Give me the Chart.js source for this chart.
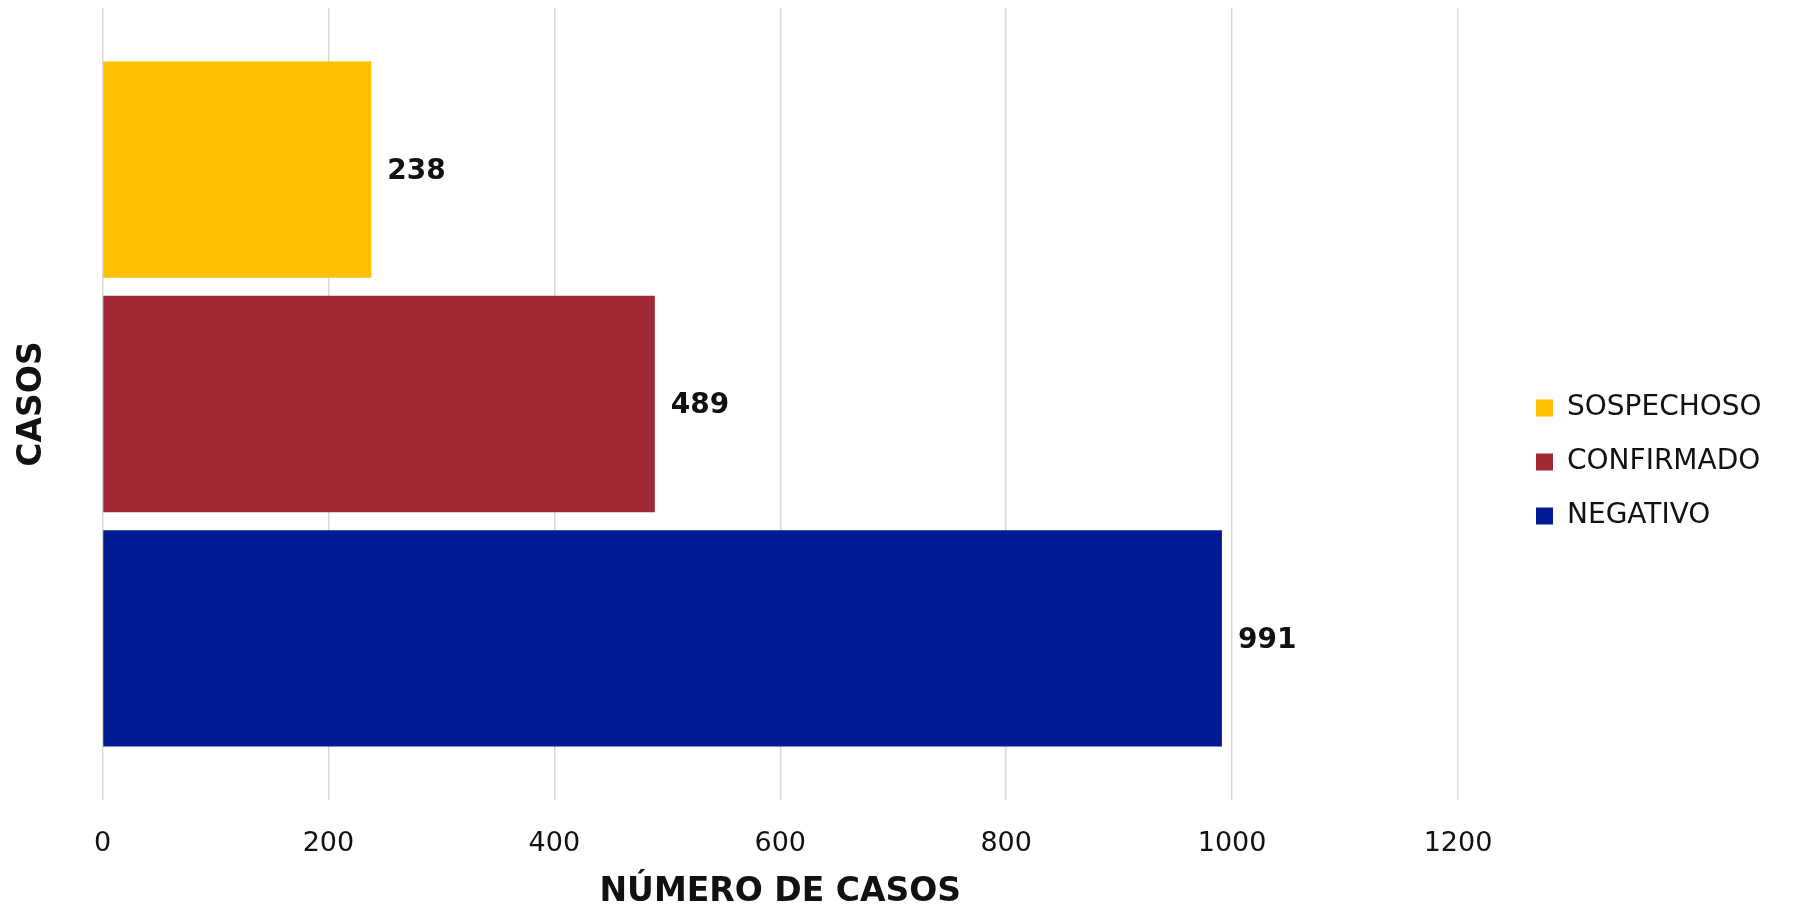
<!DOCTYPE html>
<html>
<head>
<meta charset="utf-8">
<script src="https://cdn.jsdelivr.net/npm/chart.js@4"></script>
<style>
  html, body { margin: 0; padding: 0; background: #fff; }
  #caja { width: 1806px; height: 910px; }
</style>
</head>
<body>
<div id="caja"><canvas id="grafico"></canvas></div>
<script>
const categorias = ["CASOS"];
const series = ["SOSPECHOSO", "CONFIRMADO", "NEGATIVO"];
const valores = [238, 489, 991];
const colores = ["#FFC000", "#A12936", "#001A93"];
const ticksX = [0, 200, 400, 600, 800, 1000, 1200];

const fuente = "'DejaVu Sans', sans-serif";

// etiquetas con el valor al final de cada barra
const etiquetasValor = {
    id: "etiquetasValor",
    afterDatasetsDraw(chart) {
        const ctx = chart.ctx;
        ctx.save();
        ctx.font = "bold 28px " + fuente;
        ctx.fillStyle = "#111";
        ctx.textAlign = "left";
        ctx.textBaseline = "middle";
        chart.data.datasets.forEach((ds, i) => {
            chart.getDatasetMeta(i).data.forEach((barra, j) => {
                ctx.fillText(ds.data[j], barra.x + 16, barra.y + 2);
            });
        });
        ctx.restore();
    }
};

// ancho fijo de la leyenda y corrimiento
const leyendaFija = {
    id: "leyendaFija",
    beforeInit(chart) {
        const fitOriginal = chart.legend.fit;
        chart.legend.fit = function () {
            fitOriginal.bind(chart.legend)();
            this.width = 348;
        };
    },
    afterLayout(chart) {
        chart.legend.left += 52;
        chart.legend.top += 3;
        chart.legend.bottom += 3;
    }
};

new Chart(document.getElementById("grafico"), {
    type: "bar",
    data: {
        labels: categorias,
        datasets: series.map((nombre, i) => ({
            label: nombre,
            data: [valores[i]],
            backgroundColor: colores[i],
            borderWidth: 0,
            categoryPercentage: 0.8876,
            barPercentage: 0.923
        }))
    },
    options: {
        indexAxis: "y",
        responsive: true,
        maintainAspectRatio: false,
        animation: false,
        layout: { padding: { top: 8, left: 0, right: 0, bottom: 0 } },
        plugins: {
            tooltip: { enabled: false },
            legend: {
                position: "right",
                align: "center",
                labels: {
                    color: "#111",
                    font: { family: fuente, size: 28 },
                    boxWidth: 17,
                    boxHeight: 17,
                    padding: 26
                }
            }
        },
        scales: {
            x: {
                min: 0,
                max: 1200,
                afterBuildTicks(scale) {
                    scale.ticks = ticksX.map(v => ({ value: v }));
                },
                afterFit(scale) { scale.height = 110; },
                grid: { color: "#d9d9d9", lineWidth: 1.5, drawTicks: false },
                border: { display: false },
                ticks: {
                    color: "#111",
                    font: { family: fuente, size: 27 },
                    padding: 28,
                    maxRotation: 0,
                    callback: v => String(v)
                },
                title: {
                    display: true,
                    text: "NÚMERO DE CASOS",
                    color: "#111",
                    font: { family: fuente, size: 33, weight: "bold", lineHeight: 1 },
                    padding: { top: 0, bottom: 1 }
                }
            },
            y: {
                afterFit(scale) { scale.width = 102.5; },
                grid: { display: false },
                border: { display: false },
                ticks: { display: false },
                title: {
                    display: true,
                    text: "CASOS",
                    color: "#111",
                    font: { family: fuente, size: 33, weight: "bold", lineHeight: 1 },
                    padding: { top: 16, bottom: 0 }
                }
            }
        }
    },
    plugins: [etiquetasValor, leyendaFija]
});
</script>
</body>
</html>
